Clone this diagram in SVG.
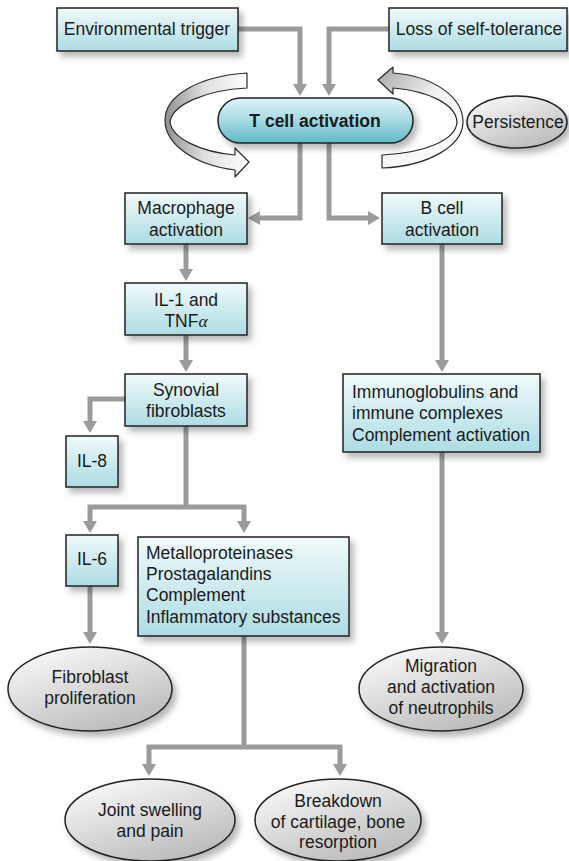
<svg xmlns="http://www.w3.org/2000/svg" width="569" height="861" viewBox="0 0 569 861">
  <style>
    text { font-family: "Liberation Sans", Arial, sans-serif; font-size: 17.5px; fill: #1a1a1a; }
    .c { text-anchor: middle; }
    .b { font-weight: bold; }
    .box { fill: url(#boxGrad); stroke: #222; stroke-width: 1.5; filter: url(#shadow); }
    .ell { fill: url(#ellGrad); stroke: #222; stroke-width: 1.5; filter: url(#shadow); }
    .pill { fill: url(#pillGrad); stroke: #222; stroke-width: 1.5; filter: url(#shadow); }
    .con { fill: none; stroke: #9b9b9b; stroke-width: 5; stroke-linejoin: miter; marker-end: url(#head); }
    .line { fill: none; stroke: #9b9b9b; stroke-width: 5; stroke-linejoin: miter; }
    .rib { stroke: #2a2a2a; stroke-width: 1.2; stroke-linejoin: round; }
  </style>
  <defs>
    <linearGradient id="boxGrad" x1="0" y1="0" x2="0" y2="1">
      <stop offset="0" stop-color="#f1fafb"/>
      <stop offset="1" stop-color="#acdce3"/>
    </linearGradient>
    <linearGradient id="pillGrad" x1="0" y1="0" x2="0" y2="1">
      <stop offset="0" stop-color="#def3f6"/>
      <stop offset="0.5" stop-color="#a6dae2"/>
      <stop offset="1" stop-color="#5fb9c6"/>
    </linearGradient>
    <linearGradient id="ellGrad" x1="0" y1="0" x2="0.6" y2="1">
      <stop offset="0" stop-color="#ffffff"/>
      <stop offset="1" stop-color="#bdbdbd"/>
    </linearGradient>
    <linearGradient id="ribL" gradientUnits="userSpaceOnUse" x1="165" y1="0" x2="250" y2="0">
      <stop offset="0" stop-color="#8f8f8f"/>
      <stop offset="0.45" stop-color="#dedede"/>
      <stop offset="1" stop-color="#ffffff"/>
    </linearGradient>
    <linearGradient id="ribR" gradientUnits="userSpaceOnUse" x1="378" y1="70" x2="463" y2="160">
      <stop offset="0" stop-color="#a8a8a8"/>
      <stop offset="0.45" stop-color="#f2f2f2"/>
      <stop offset="1" stop-color="#ffffff"/>
    </linearGradient>
    <filter id="shadow" x="-20%" y="-20%" width="150%" height="160%">
      <feDropShadow dx="4" dy="5" stdDeviation="3" flood-color="#000" flood-opacity="0.28"/>
    </filter>
    <marker id="head" markerUnits="userSpaceOnUse" viewBox="0 0 12 14" markerWidth="12" markerHeight="14" refX="1" refY="7" orient="auto">
      <path d="M0,0 L12,7 L0,14 Z" fill="#9b9b9b"/>
    </marker>
  </defs>

  <!-- connectors -->
  <g id="connectors">
    <path class="con" d="M238,29 H300 V85"/>
    <path class="con" d="M389,29 H329 V85"/>
    <path class="con" d="M300,143 V218 H259"/>
    <path class="con" d="M329,143 V218 H369"/>
    <path class="con" d="M186,244 V270"/>
    <path class="con" d="M186,335 V361"/>
    <path class="con" d="M125,399 H90 V422"/>
    <path class="line" d="M186,426 V507"/>
    <path class="con" d="M186,507 H90 V522"/>
    <path class="con" d="M186,507 H244 V522"/>
    <path class="con" d="M90,586 V633"/>
    <path class="line" d="M244,636 V747"/>
    <path class="con" d="M244,747 H149 V765"/>
    <path class="con" d="M244,747 H340 V765"/>
    <path class="con" d="M442,244 V361"/>
    <path class="con" d="M442,452 V633"/>
  </g>

  <!-- feedback ribbons around T cell activation -->
  <g id="cycle-left">
    <path class="rib" fill="url(#ribL)" d="M247,73 C200,76 165,95 165,120 C165,145 195,165 235,170 L235,177 L249,162 L235,148 L235,155 C200,152 172,138 170,122 C172,105 205,90 247,88 Z"/>
  </g>
  <g id="cycle-right">
    <path class="rib" fill="url(#ribR)" d="M382,168 C430,166 463,145 463,122 C463,96 432,76 393,73 L393,67 L378,80 L393,94 L393,88 C428,91 456,104 457,122 C456,140 425,153 382,155 Z"/>
  </g>

  <g id="env-trigger">
    <rect class="box" x="57" y="8" width="181" height="43"/>
    <text class="c" x="147" y="35">Environmental trigger</text>
  </g>
  <g id="loss-tolerance">
    <rect class="box" x="389" y="8" width="178" height="43"/>
    <text class="c" x="479" y="35">Loss of self-tolerance</text>
  </g>
  <g id="t-cell">
    <rect class="pill" x="218" y="98" width="195" height="45" rx="22.5"/>
    <text class="c b" x="315" y="127">T cell activation</text>
  </g>
  <g id="persistence">
    <ellipse class="ell" cx="517" cy="122" rx="50" ry="26"/>
    <text class="c" x="518" y="128">Persistence</text>
  </g>
  <g id="macrophage">
    <rect class="box" x="125" y="193" width="122" height="51"/>
    <text class="c" x="186" y="214">Macrophage</text>
    <text class="c" x="186" y="236">activation</text>
  </g>
  <g id="b-cell">
    <rect class="box" x="382" y="193" width="120" height="51"/>
    <text class="c" x="442" y="214">B cell</text>
    <text class="c" x="442" y="236">activation</text>
  </g>
  <g id="il1-tnf">
    <rect class="box" x="125" y="283" width="122" height="52"/>
    <text class="c" x="186" y="306">IL-1 and</text>
    <text class="c" x="186" y="327">TNF<tspan font-family="Liberation Serif, serif" font-style="italic">α</tspan></text>
  </g>
  <g id="synovial">
    <rect class="box" x="125" y="374" width="122" height="52"/>
    <text class="c" x="186" y="396">Synovial</text>
    <text class="c" x="186" y="417">fibroblasts</text>
  </g>
  <g id="il8">
    <rect class="box" x="66" y="436" width="52" height="51"/>
    <text class="c" x="92" y="467">IL-8</text>
  </g>
  <g id="il6">
    <rect class="box" x="66" y="535" width="52" height="51"/>
    <text class="c" x="92" y="565">IL-6</text>
  </g>
  <g id="mediators">
    <rect class="box" x="138" y="537" width="211" height="99"/>
    <text x="146" y="559">Metalloproteinases</text>
    <text x="146" y="580">Prostagalandins</text>
    <text x="146" y="601">Complement</text>
    <text x="146" y="623">Inflammatory substances</text>
  </g>
  <g id="immunoglobulins">
    <rect class="box" x="343" y="374" width="197" height="78"/>
    <text x="352" y="398">Immunoglobulins and</text>
    <text x="352" y="419">immune complexes</text>
    <text x="352" y="441">Complement activation</text>
  </g>
  <g id="fibroblast-prolif">
    <ellipse class="ell" cx="90" cy="689" rx="82" ry="42"/>
    <text class="c" x="90" y="683">Fibroblast</text>
    <text class="c" x="90" y="704">proliferation</text>
  </g>
  <g id="neutrophils">
    <ellipse class="ell" cx="441" cy="689" rx="82" ry="42"/>
    <text class="c" x="441" y="672">Migration</text>
    <text class="c" x="441" y="693">and activation</text>
    <text class="c" x="441" y="714">of neutrophils</text>
  </g>
  <g id="joint-swelling">
    <ellipse class="ell" cx="150" cy="820" rx="85" ry="41"/>
    <text class="c" x="150" y="816">Joint swelling</text>
    <text class="c" x="150" y="837">and pain</text>
  </g>
  <g id="breakdown">
    <ellipse class="ell" cx="338" cy="820" rx="83" ry="41"/>
    <text class="c" x="338" y="807">Breakdown</text>
    <text class="c" x="338" y="828">of cartilage, bone</text>
    <text class="c" x="338" y="848">resorption</text>
  </g>
</svg>
